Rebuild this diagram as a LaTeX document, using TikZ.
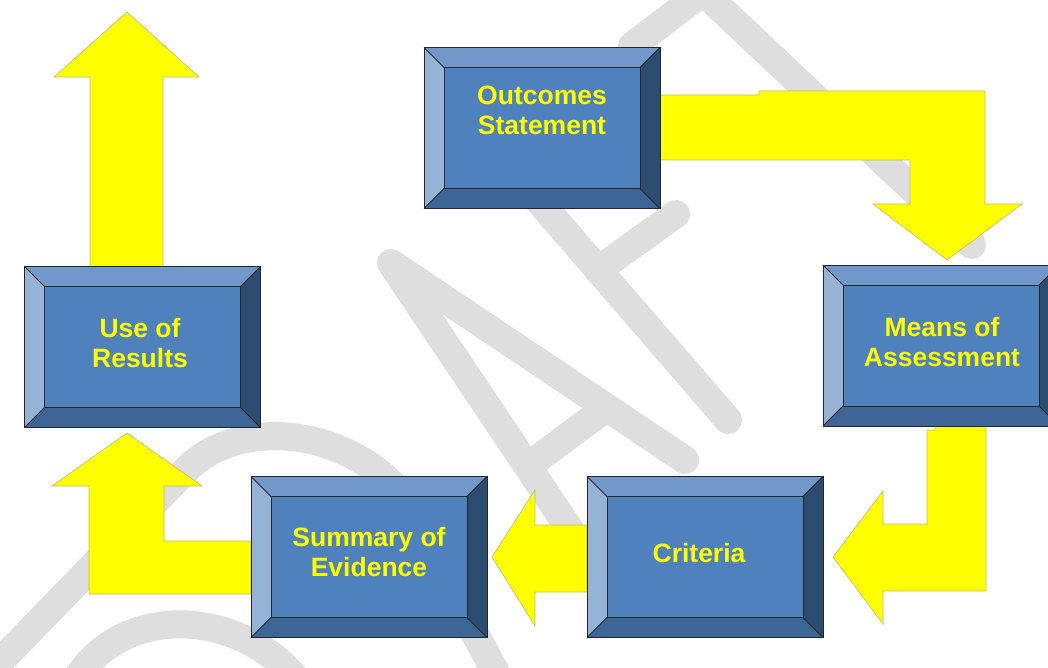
\documentclass[tikz,border=0pt]{standalone}
\usepackage{fontspec}
\setmainfont{Liberation Sans}
\usetikzlibrary{calc}
\definecolor{wm}{RGB}{222,222,222}
\definecolor{face}{RGB}{79,129,189}
\definecolor{bvtop}{RGB}{113,152,202}
\definecolor{bvleft}{RGB}{149,179,215}
\definecolor{bvbot}{RGB}{61,101,150}
\definecolor{bvright}{RGB}{44,76,112}
\definecolor{arrowfill}{RGB}{255,255,0}
\definecolor{arrowline}{RGB}{190,190,110}
\definecolor{label}{RGB}{255,255,0}
\newcommand\bevbox[2]{%
  \node[boxouter] (#1) at (#2) {};
  \coordinate (#1-inw) at ($(#1.north west)+(20,20)$);
  \coordinate (#1-ine) at ($(#1.north east)+(-20,20)$);
  \coordinate (#1-ise) at ($(#1.south east)+(-20,-20)$);
  \coordinate (#1-isw) at ($(#1.south west)+(20,-20)$);
  \fill[bvtop] (#1.north west) -- (#1.north east) -- (#1-ine) -- (#1-inw) -- cycle;
  \fill[bvleft] (#1.north west) -- (#1-inw) -- (#1-isw) -- (#1.south west) -- cycle;
  \fill[bvbot] (#1.south west) -- (#1-isw) -- (#1-ise) -- (#1.south east) -- cycle;
  \fill[bvright] (#1.north east) -- (#1.south east) -- (#1-ise) -- (#1-ine) -- cycle;
  \fill[face] (#1-inw) rectangle (#1-ise);
  \draw[edge] (#1.north west) rectangle (#1.south east);
  \draw[edge] (#1-inw) rectangle (#1-ise);
  \draw[edge] (#1.north west) -- (#1-inw) (#1.north east) -- (#1-ine)
              (#1.south east) -- (#1-ise) (#1.south west) -- (#1-isw);
}
\begin{document}
\begin{tikzpicture}[x=1pt,y=-1pt,
  boxouter/.style={minimum width=236pt,minimum height=161pt,inner sep=0pt,outer sep=0pt,draw=none},
  boxtext/.style={text=label,font=\bfseries\fontsize{26.5}{30}\selectfont,align=center,inner sep=0pt},
  yarrow/.style={fill=arrowfill,draw=arrowline,line width=0.6pt,line join=miter},
  wmark/.style={draw=wm,line width=28pt,line cap=round,line join=round},
  edge/.style={draw=black!85,line width=0.8pt}
]
\useasboundingbox (0,0) rectangle (1048,668);
\fill[white] (0,0) rectangle (1048,668);
% watermark
\draw[wmark] (685,460) -- (391,263) -- (577,540);
\draw[wmark] (528,466) -- (606,408);
\draw[wmark] (728,420) -- (506,163) -- (618,79);
\draw[wmark] (598,270) -- (676,214);
\draw[wmark] (972,245) -- (703,-8);
\draw[wmark] (632,46) -- (774,-62);
\draw[wmark] (-10,672) -- (186,470) .. controls (235,420) and (335,425) .. (395,487) -- (500,680);
\draw[wmark] (70,690) .. controls (115,600) and (245,605) .. (305,690);
% arrows
\draw[yarrow] (660,95) -- (759,95) -- (759,91) -- (985,91) -- (985,204) -- (1022,204) -- (947,260) -- (873,204) -- (910,204) -- (910,160) -- (660,160) -- cycle;
\draw[yarrow] (986,426) -- (986,591) -- (883,591) -- (883,624) -- (833,557) -- (883,491) -- (883,524) -- (927,524) -- (927,430) -- (935,430) -- (935,426) -- cycle;
\draw[yarrow] (587,525) -- (535,525) -- (535,490) -- (492,557) -- (535,626) -- (535,592) -- (587,592) -- cycle;
\draw[yarrow] (251,541) -- (164,541) -- (164,486) -- (202,486) -- (127,433) -- (52,486) -- (89,486) -- (89,594) -- (251,594) -- cycle;
\draw[yarrow] (90,267) -- (90,77) -- (54,77) -- (127,12) -- (199,77) -- (163,77) -- (163,267) -- cycle;
% boxes
\bevbox{os}{542,128}
\bevbox{ma}{941,345.5}
\bevbox{ur}{142.5,347}
\bevbox{se}{369,557}
\bevbox{cr}{705,557}
\node[boxtext] (os-t) at (542,110) {Outcomes\\Statement};
\node[boxtext] (ma-t) at (942,342) {Means of\\Assessment};
\node[boxtext] (ur-t) at (140,343) {Use of\\Results};
\node[boxtext] (se-t) at (369,552) {Summary of\\Evidence};
\node[boxtext] (cr-t) at (699,553) {Criteria};
\end{tikzpicture}
\end{document}
